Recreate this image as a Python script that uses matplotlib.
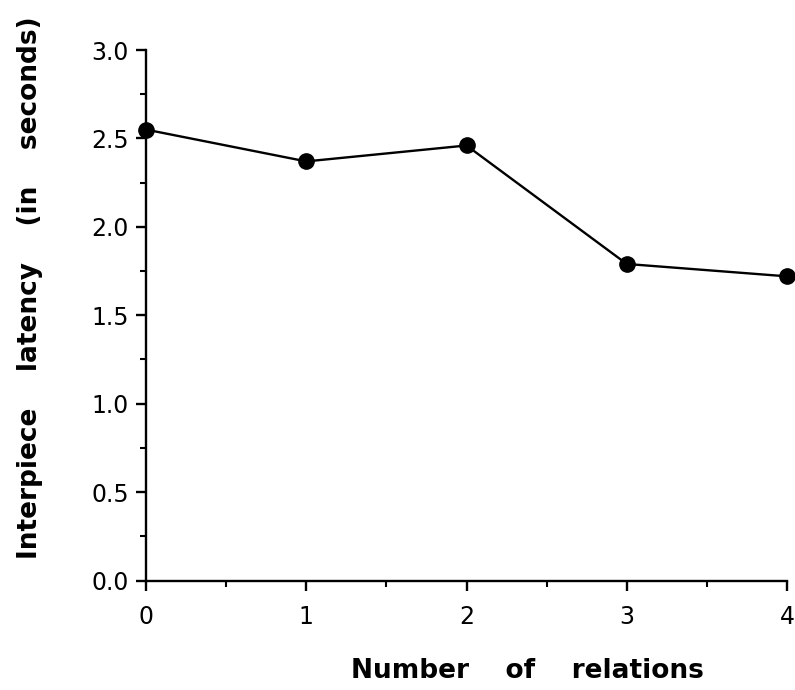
import matplotlib
matplotlib.use("Agg")
import matplotlib.pyplot as plt
from matplotlib.ticker import MultipleLocator

relations = [0, 1, 2, 3, 4]
latency = [2.55, 2.37, 2.46, 1.79, 1.72]
x_label = "Number    of    relations"
y_label = "Interpiece    latency    (in    seconds)"

plt.rcParams['font.family'] = ['DejaVu Sans']

W, H = 795, 690
fig = plt.figure(figsize=(W/100, H/100), dpi=100)
ax = fig.add_axes([146/W, 1-580.5/H, (787-146)/W, (580.5-50)/H])

ax.plot(relations, latency, color='black', lw=1.7, marker='o', ms=11,
        markerfacecolor='black', clip_on=False, zorder=3)

ax.set_xlim(0, 4)
ax.set_ylim(0, 3.0)
ax.xaxis.set_major_locator(MultipleLocator(1))
ax.xaxis.set_minor_locator(MultipleLocator(0.5))
ax.yaxis.set_major_locator(MultipleLocator(0.5))
ax.yaxis.set_minor_locator(MultipleLocator(0.25))
ax.set_yticks([0, 0.5, 1.0, 1.5, 2.0, 2.5, 3.0])
ax.set_yticklabels(["0.0", "0.5", "1.0", "1.5", "2.0", "2.5", "3.0"])

for s in ['top', 'right']:
    ax.spines[s].set_visible(False)
for s in ['left', 'bottom']:
    ax.spines[s].set_linewidth(1.7)

ax.tick_params(which='major', direction='out', length=7.5, width=1.7, labelsize=17)
ax.tick_params(which='minor', direction='out', length=4, width=1.5)
ax.tick_params(axis='y', which='major', pad=5)
ax.tick_params(axis='x', which='major', pad=10)

fig.text(527/W, 1-678/H, x_label, fontsize=19, fontweight='bold',
         ha='center', va='baseline')
fig.text(30/W, 1-288/H, y_label, fontsize=19, fontweight='bold',
         ha='center', va='center', rotation=90)

fig.savefig("out.png", dpi=100)
